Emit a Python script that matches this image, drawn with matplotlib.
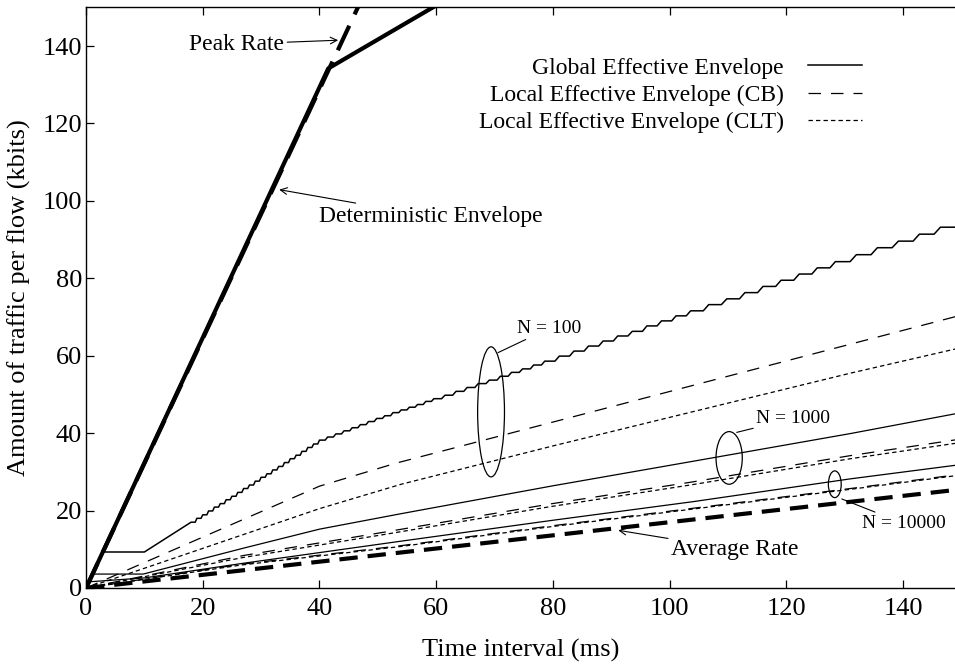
import matplotlib.pyplot as plt
from matplotlib.patches import Ellipse

plt.rcParams['font.family'] = ['Liberation Serif', 'DejaVu Serif']

# deterministic envelope, peak rate, average rate (kbits vs ms)
det_t = [0, 41.5, 150]
det_y = [0, 134.2, 229.7]
peak_t = [0, 150]
peak_y = [0, 483]
avg_t = [0, 150]
avg_y = [0, 25.5]

# N = 100, global envelope: flat start then a staircase
g100_head_t = [0, 3.0, 10]
g100_head_y = [0, 9.3, 9.3]
g100_step_t = [18, 19, 20, 21, 22, 23, 24, 25, 26, 27, 28, 29, 30, 31, 32, 33, 34, 35,
               36, 37, 38, 39, 40, 41.4, 42.8, 44.2, 45.6, 47, 48.4, 49.8, 51.2, 52.6,
               54, 55.4, 56.8, 58.2, 59.6, 61.5, 63.4, 65.3, 67.2, 69.1, 71, 72.9, 74.8,
               76.7, 78.6, 81.1, 83.6, 86.1, 88.6, 91.1, 93.6, 96.1, 98.6, 101.1, 103.6,
               106.7, 109.8, 112.9, 116, 119.1, 122.2, 125.3, 128.4, 132, 135.6, 139.2,
               142.8, 146.4, 150]
g100_step_y = [17.0, 18.0, 18.9, 19.9, 20.9, 21.8, 22.8, 23.7, 24.7, 25.7, 26.6, 27.6,
               28.6, 29.5, 30.5, 31.4, 32.4, 33.4, 34.3, 35.3, 36.3, 37.2, 38.2, 39.0,
               39.8, 40.6, 41.4, 42.2, 43.0, 43.8, 44.5, 45.3, 46.0, 46.7, 47.4, 48.2,
               48.9, 49.8, 50.8, 51.8, 52.8, 53.7, 54.7, 55.7, 56.6, 57.6, 58.6, 59.9,
               61.2, 62.5, 63.8, 65.1, 66.3, 67.7, 69.0, 70.3, 71.6, 73.2, 74.7, 76.3,
               77.9, 79.5, 81.1, 82.7, 84.3, 86.1, 87.9, 89.6, 91.4, 93.2, 94.9]
cb100_t = [0, 40, 53, 150]
cb100_y = [0, 26.3, 32.2, 70.5]
clt100_t = [0, 10, 40, 54, 80, 131, 150]
clt100_y = [0, 5.1, 20.5, 26.8, 36.7, 55.5, 62.1]

# N = 1000
g1000_t = [0, 1.0, 9.8, 27, 40, 54, 80, 103.5, 131, 150]
g1000_y = [0, 3.6, 3.6, 10.3, 15.2, 19.2, 26.4, 32.6, 39.9, 45.3]
cb1000_t = [0, 27, 51, 79.5, 103.5, 131, 150]
cb1000_y = [0, 8.4, 14.4, 21.7, 27.3, 34.2, 38.5]
clt1000_t = [0, 27, 51, 79.5, 103.5, 131, 150]
clt1000_y = [0, 7.9, 13.8, 21.0, 26.6, 33.4, 37.6]

# N = 10000
g10000_t = [0, 0.5, 10, 27, 54, 80, 104, 131, 150]
g10000_y = [0, 1.6, 2.6, 6.4, 12.1, 17.5, 22.3, 28.2, 31.9]
cb10000_t = [0, 26.4, 53.8, 79.5, 103.5, 131, 150]
cb10000_y = [0, 6.1, 10.9, 16.0, 20.5, 25.7, 29.4]
clt10000_t = [0, 26.4, 53.8, 79.5, 103.5, 131, 150]
clt10000_y = [0, 5.9, 10.7, 15.8, 20.3, 25.5, 29.2]


def stairs(t, v, rise=0.3):
    xs, ys = [t[0]], [v[0]]
    for k in range(1, len(t)):
        xs += [t[k] - rise * (t[k] - t[k-1]), t[k]]
        ys += [v[k-1], v[k]]
    return xs, ys


fig = plt.figure(figsize=(9.55, 6.71), dpi=100)
ax = fig.add_axes([0.0901, 0.1237, 0.9099, 0.8654])

thin = 0.9
cb_dash = (10, 8)
clt_dash = (3.5, 2.5)

sx, sy = stairs(g100_step_t, g100_step_y)
l_glob, = ax.plot(g100_head_t + sx, g100_head_y + sy, color='k', lw=1.1,
                  label='Global Effective Envelope')
l_cb, = ax.plot(cb100_t, cb100_y, color='k', lw=thin, dashes=cb_dash,
                label='Local Effective Envelope (CB)')
l_clt, = ax.plot(clt100_t, clt100_y, color='k', lw=thin, dashes=clt_dash,
                 label='Local Effective Envelope (CLT)')

ax.plot(g1000_t, g1000_y, color='k', lw=thin)
ax.plot(cb1000_t, cb1000_y, color='k', lw=thin, dashes=cb_dash)
ax.plot(clt1000_t, clt1000_y, color='k', lw=thin, dashes=clt_dash)

ax.plot(g10000_t, g10000_y, color='k', lw=thin)
ax.plot(cb10000_t, cb10000_y, color='k', lw=thin, dashes=cb_dash)
ax.plot(clt10000_t, clt10000_y, color='k', lw=thin, dashes=clt_dash)

ax.plot(peak_t, peak_y, color='k', lw=3, dashes=(6.5, 3))
ax.plot(det_t, det_y, color='k', lw=3, solid_capstyle='butt')
ax.plot(avg_t, avg_y, color='k', lw=3, dashes=(4.4, 2.4))

# ellipses grouping the curves of each N
for cx, cy, w, h in [(69.4, 45.5, 4.6, 33.6), (110.2, 33.6, 4.5, 13.6), (128.3, 26.8, 2.2, 6.9)]:
    ax.add_patch(Ellipse((cx, cy), w, h, fill=False, ec='k', lw=0.9))

arr = dict(arrowstyle='->', lw=0.8, color='k', mutation_scale=12, shrinkA=0, shrinkB=0)
ax.annotate('Peak Rate', xy=(43.2, 141.5), xytext=(34.0, 140.5), fontsize=17,
            ha='right', va='center', arrowprops=arr)
ax.annotate('Deterministic Envelope', xy=(33.1, 102.9), xytext=(40.0, 96.0), fontsize=17,
            ha='left', va='center', arrowprops=arr)
ax.annotate('Average Rate', xy=(91.2, 14.9), xytext=(100.2, 10.0), fontsize=17,
            ha='left', va='center', arrowprops=arr)

ln = dict(arrowstyle='-', lw=0.8, color='k', shrinkA=0, shrinkB=0)
ax.annotate('N = 100', xy=(70.6, 60.8), xytext=(73.9, 67.1), fontsize=14,
            ha='left', va='center', arrowprops=ln)
ax.annotate('N = 1000', xy=(111.5, 40.2), xytext=(114.8, 43.8), fontsize=14,
            ha='left', va='center', arrowprops=ln)
ax.annotate('N = 10000', xy=(129.5, 23.0), xytext=(132.9, 16.7), fontsize=14,
            ha='left', va='center', arrowprops=ln)

ax.set_xlim(0, 148.9)
ax.set_ylim(0, 150)
ax.set_xticks(range(0, 141, 20))
ax.set_yticks(range(0, 141, 20))
ax.tick_params(direction='in', length=6, width=0.9, labelsize=19, top=True, right=False)
ax.tick_params(axis='x', pad=7)
ax.tick_params(axis='y', pad=3)
ax.spines['right'].set_visible(False)
for s in ['left', 'bottom', 'top']:
    ax.spines[s].set_linewidth(1.0)

ax.set_xlabel('Time interval (ms)', fontsize=19, labelpad=14)
ax.set_ylabel('Amount of traffic per flow (kbits)', fontsize=19, labelpad=8)

fig.legend(handles=[l_glob, l_cb, l_clt], loc='upper right',
           bbox_to_anchor=(862 / 955, 1 - 57 / 671), frameon=False, fontsize=17,
           markerfirst=False, handlelength=2.3, handletextpad=1.0, labelspacing=0.25,
           borderpad=0, borderaxespad=0)

fig.savefig('out.png', dpi=100)
